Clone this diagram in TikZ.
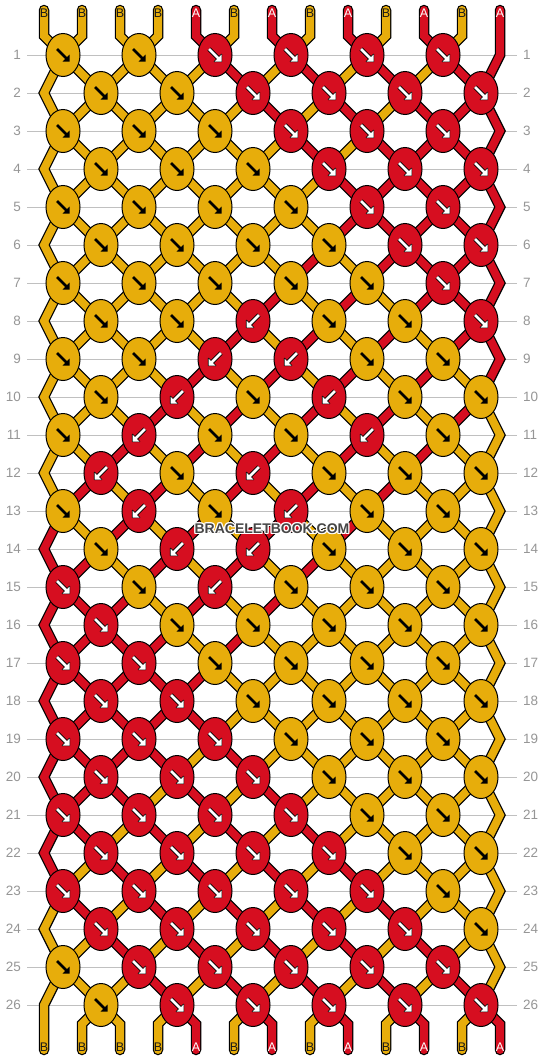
\documentclass[tikz,border=0pt]{standalone}
\usepackage{fontspec}
\setmainfont{Liberation Sans}
\usetikzlibrary{shapes.geometric}
\definecolor{cY}{RGB}{231,173,11}
\definecolor{cR}{RGB}{214,14,32}
\definecolor{gridc}{RGB}{192,192,192}
\definecolor{numc}{RGB}{150,150,150}
\definecolor{arrowY}{RGB}{0,0,0}
\definecolor{arrowR}{RGB}{255,255,255}
\colorlet{edgeY}{cY}
\definecolor{edgeR}{RGB}{0,0,0}
\definecolor{txtY}{RGB}{25,25,25}
\definecolor{txtR}{RGB}{255,255,255}
\definecolor{wmc}{RGB}{70,70,70}
\newcommand\drawarrow[3]{%
  \begin{scope}[shift={(#1.center)}, xscale=#2]
    \draw[line width=4.4pt, draw=edge#3] (-6,-6) -- (4,4);
    \filldraw[draw=edge#3, fill=edge#3, line width=1.4pt, line join=round] (6.5,6.5) -- (6.5,-0.5) -- (-0.5,6.5) -- cycle;
    \draw[line width=2.8pt, draw=arrow#3] (-6,-6) -- (4,4);
    \fill[fill=arrow#3] (6.5,6.5) -- (6.5,-0.5) -- (-0.5,6.5) -- cycle;
  \end{scope}}
\tikzset{
  knot/.style={ellipse, draw=black, line width=1pt, minimum width=34pt, minimum height=43pt, inner sep=0pt},
  gridline/.style={draw=gridc, line width=1pt},
  rownum/.style={text=numc, font=\fontsize{13.5}{15}\selectfont, inner sep=0pt},
  strlab/.style={font=\fontsize{12.5}{14}\selectfont, inner sep=0pt},
  strandout/.style={draw=black, line width=10.5pt, line cap=round, line join=miter},
  strandin/.style={line width=8pt, line cap=round, line join=miter},
  wmk/.style={font=\bfseries\fontsize{14}{16}\selectfont, inner sep=0pt}
}
\begin{document}
\begin{tikzpicture}[x=1pt,y=-1pt]
\useasboundingbox (0,0) rectangle (544,1060);
\fill[white] (0,0) rectangle (544,1060);
% grid lines and row numbers
\foreach \t in {1,...,26}{
  \pgfmathsetmacro\yy{55+38*(\t-1)}
  \draw[gridline] (27,\yy) coordinate (gl-\t) -- (517,\yy) coordinate (gr-\t);
  \node[rownum, anchor=east] (ln-\t) at (21,\yy) {\t};
  \node[rownum, anchor=west] (rn-\t) at (523,\yy) {\t};
}
% knot coordinates per row and string position
\foreach \t in {1,...,26}{
  \foreach \i in {0,...,12}{
    \pgfmathtruncatemacro\mr{mod(\i+\t,2)}
    \pgfmathtruncatemacro\pq{\mr*min(\i+1,12)+(1-\mr)*max(\i-1,0)}
    \coordinate (p-\t-\i) at ({44+19*(\i+\pq)},{55+38*(\t-1)});
  }
}
\foreach \i in {0,...,12}{
  \coordinate (top-\i) at ({44+38*\i},10);
  \coordinate (tb-\i) at ({44+38*\i},36);
  \coordinate (bb-\i) at ({44+38*\i},1024);
  \coordinate (bot-\i) at ({44+38*\i},1050);
}
% strands: outline pass
\foreach \j/\cl in {0/Y,1/Y,2/Y,3/Y,4/R,5/Y,6/R,7/Y,8/R,9/Y,10/R,11/Y,12/R}{
  \pgfmathtruncatemacro\uo{\j+mod(\j,2)*(25-2*\j)}
  \draw[strandout] (top-\j) -- (tb-\j)
    \foreach \t [evaluate=\t as \pp using {int(mod(\uo+\t,26)<13 ? mod(\uo+\t,26) : 25-mod(\uo+\t,26))}] in {1,...,26} { -- (p-\t-\pp) }
    -- (bb-\j) -- (bot-\j);
}
% strands: colour pass
\foreach \j/\cl in {0/Y,1/Y,2/Y,3/Y,4/R,5/Y,6/R,7/Y,8/R,9/Y,10/R,11/Y,12/R}{
  \pgfmathtruncatemacro\uo{\j+mod(\j,2)*(25-2*\j)}
  \draw[strandin, draw=c\cl] (top-\j) -- (tb-\j)
    \foreach \t [evaluate=\t as \pp using {int(mod(\uo+\t,26)<13 ? mod(\uo+\t,26) : 25-mod(\uo+\t,26))}] in {1,...,26} { -- (p-\t-\pp) }
    -- (bb-\j) -- (bot-\j);
}
% string labels
\foreach \j/\cl/\lt in {0/Y/B,1/Y/B,2/Y/B,3/Y/B,4/R/A,5/Y/B,6/R/A,7/Y/B,8/R/A,9/Y/B,10/R/A,11/Y/B,12/R/A}{
  \node[strlab, text=txt\cl] (tl-\j) at ({44+38*\j},13) {\lt};
  \node[strlab, text=txt\cl] (bl-\j) at ({44+38*\j},1047) {\lt};
}
% knots
\foreach \t/\codes in {
1/{Y/1,Y/1,R/1,R/1,R/1,R/1},
2/{Y/1,Y/1,R/1,R/1,R/1,R/1},
3/{Y/1,Y/1,Y/1,R/1,R/1,R/1},
4/{Y/1,Y/1,Y/1,R/1,R/1,R/1},
5/{Y/1,Y/1,Y/1,Y/1,R/1,R/1},
6/{Y/1,Y/1,Y/1,Y/1,R/1,R/1},
7/{Y/1,Y/1,Y/1,Y/1,Y/1,R/1},
8/{Y/1,Y/1,R/-1,Y/1,Y/1,R/1},
9/{Y/1,Y/1,R/-1,R/-1,Y/1,Y/1},
10/{Y/1,R/-1,Y/1,R/-1,Y/1,Y/1},
11/{Y/1,R/-1,Y/1,Y/1,R/-1,Y/1},
12/{R/-1,Y/1,R/-1,Y/1,Y/1,Y/1},
13/{Y/1,R/-1,Y/1,R/-1,Y/1,Y/1},
14/{Y/1,R/-1,R/-1,Y/1,Y/1,Y/1},
15/{R/1,Y/1,R/-1,Y/1,Y/1,Y/1},
16/{R/1,Y/1,Y/1,Y/1,Y/1,Y/1},
17/{R/1,R/1,Y/1,Y/1,Y/1,Y/1},
18/{R/1,R/1,Y/1,Y/1,Y/1,Y/1},
19/{R/1,R/1,R/1,Y/1,Y/1,Y/1},
20/{R/1,R/1,R/1,Y/1,Y/1,Y/1},
21/{R/1,R/1,R/1,R/1,Y/1,Y/1},
22/{R/1,R/1,R/1,R/1,Y/1,Y/1},
23/{R/1,R/1,R/1,R/1,R/1,Y/1},
24/{R/1,R/1,R/1,R/1,R/1,Y/1},
25/{Y/1,R/1,R/1,R/1,R/1,R/1},
26/{Y/1,R/1,R/1,R/1,R/1,R/1}}{
  \foreach \col/\dir [count=\c from 0] in \codes {
    \pgfmathsetmacro\kx{63+38*(1-mod(\t,2))+76*\c}
    \pgfmathsetmacro\ky{55+38*(\t-1)}
    \node[knot, fill=c\col] (k-\t-\c) at (\kx,\ky) {};
    \drawarrow{k-\t-\c}{\dir}{\col}
  }
}
% watermark
\foreach \dx/\dy [count=\n] in {1/0,-1/0,0/1,0/-1,1/1,1/-1,-1/1,-1/-1}{
  \node[wmk, text=white] (wmh-\n) at (272+\dx,529+\dy) {BRACELETBOOK.COM};
}
\node[wmk, text=wmc] (wm) at (272,529) {BRACELETBOOK.COM};
\end{tikzpicture}
\end{document}
